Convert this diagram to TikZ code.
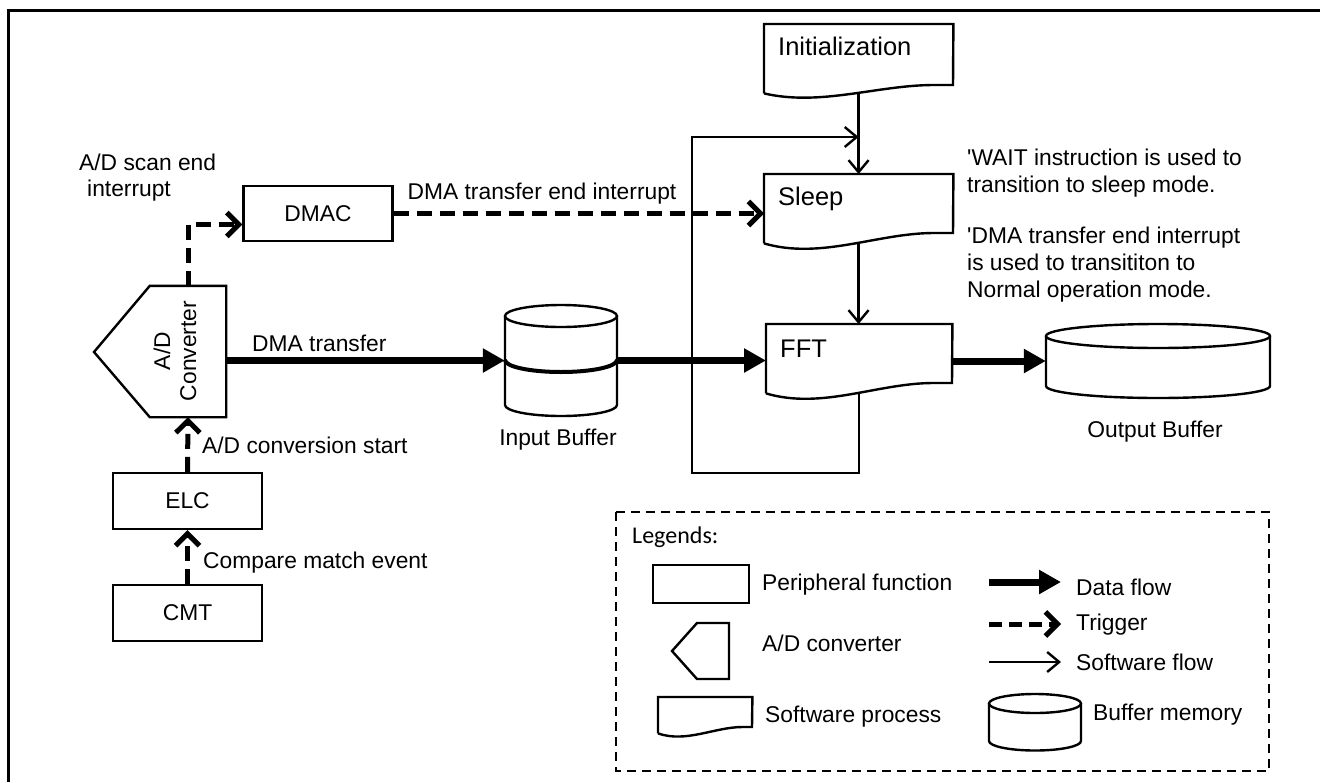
\documentclass[tikz,border=0pt]{standalone}
\usepackage{fontspec}
\setmainfont{Liberation Sans}
\newfontfamily\legfont{Carlito}
\usetikzlibrary{arrows.meta,calc}

\tikzset{
  ln/.style={line width=2.4pt},
  pbox/.style={draw, line width=2.4pt, minimum width=149pt, minimum height=56pt, inner sep=0pt, font=\fontsize{22.8}{26}\selectfont},
  data/.style={line width=7pt, -{Triangle[length=22pt,width=23pt]}},
  trig/.style={line width=5pt, dash pattern=on 15pt off 8pt, -{Straight Barb[length=12pt,width=24pt]}},
  sw/.style={line width=2.4pt, -{Straight Barb[length=12pt,width=20pt]}},
  lbl/.style={font=\fontsize{22.8}{27}\selectfont, inner sep=0pt},
  doclbl/.style={font=\fontsize{25.5}{30}\selectfont, inner sep=0pt, anchor=base west},
}

% doc shape: name, x0, y0, x1, yl, rise
\newcommand\docshape[6]{%
  \node[inner sep=0pt, minimum width={(#4-#2)*1pt}, minimum height={(#5-#3)*1pt}, anchor=north west] (#1) at (#2,#3) {};
  \draw[ln] (#1.south west) -- (#1.north west) -- (#1.north east) -- (#4,{#5-#6})
    -- ({#2+0.9*(#4-#2)},{#5-#6}) .. controls ({#2+0.6*(#4-#2)},{#5-#6}) and ({#2+0.3*(#4-#2)},{#5+1.7*#6}) .. (#1.south west)
    node[coordinate, pos=0.444] (#1-b) {};
}
% cylinder: name, cx, rx, ytop, ybot, ry
\newcommand\cylshape[6]{%
  \node[inner sep=0pt, minimum width={2*#3*1pt}, minimum height={(#5-#4+2*#6)*1pt}] (#1) at (#2,{(#4+#5)/2}) {};
  \draw[ln] ({#2-#3},#4) -- ({#2-#3},#5) arc[start angle=180, end angle=360, x radius=#3pt, y radius=#6pt] -- ({#2+#3},#4);
  \draw[ln] (#2,#4) ellipse[x radius=#3pt, y radius=#6pt];
}

\begin{document}
\begin{tikzpicture}[x=1pt,y=-1pt]
\useasboundingbox (0,0) rectangle (1320,782);
\fill[white] (0,0) rectangle (1320,782);
% frame
\draw[line width=3pt] (8,782) -- (8,10) -- (1320,10);

% peripheral boxes
\node[pbox] (cmt) at (187.5,613) {CMT};
\node[pbox] (elc) at (187.5,501) {ELC};
\node[pbox, minimum height=55pt] (dmac) at (318,213.5) {DMAC};

% A/D converter
\node[inner sep=0pt, minimum width=76pt, minimum height=131pt] (adc) at (188,351.5) {};
\draw[ln] (adc.north west) -- (adc.north east) -- (adc.south east) -- (adc.south west) -- (94,352) -- cycle;
\node[lbl, rotate=90, align=center, font=\fontsize{22.8}{26}\selectfont] at (175,351) {A/D\\Converter};

% software processes
\docshape{init}{764}{24}{953}{93}{8}
\node[doclbl] at (778,55) {Initialization};
\docshape{sleep}{764}{174}{953}{243}{10}
\node[doclbl] at (778,205) {Sleep};
\docshape{fft}{766}{324}{952}{393}{10}
\node[doclbl] at (780,357) {FFT};

% buffers
\cylshape{ib}{561}{56}{316}{405}{11}
\draw[line width=4pt] (505,360) arc[start angle=180, end angle=360, x radius=56pt, y radius=12pt];
\node[lbl] at (558,440) {Input Buffer};
\cylshape{ob}{1158}{112}{336}{386}{12}
\node[lbl] at (1155,432) {Output Buffer};

% software flow
\coordinate (loopc) at (692,473);
\coordinate (join) at (init-b |- 0,137);
\draw[sw] (init-b) -- (init-b |- sleep.north);
\draw[sw] (fft-b) |- (loopc) |- (join);
\draw[sw] (sleep-b) -- (sleep-b |- fft.north);

% triggers
\draw[trig] (cmt.north) -- (elc.south);
\draw[trig] (elc.north) -- (adc.south);
\draw[trig] (adc.north) |- ([yshift=-11pt]dmac.west);
\draw[trig] (dmac.east) -- (dmac.east -| sleep.west);

% data flow
\draw[data] (adc.east |- ib.west) -- (ib.west);
\draw[data] (ib.east) -- (ib.east -| fft.west);
\draw[data] (fft.east |- ob.west) -- (ob.west);

% labels
\node[lbl, anchor=base west] at (79,170) {A/D scan end};
\node[lbl, anchor=base west] at (87,196) {interrupt};
\node[lbl, anchor=south] at (542,204) {DMA transfer end interrupt};
\node[lbl, anchor=west] at (252,343) {DMA transfer};
\node[lbl, anchor=west] at (202,445) {A/D conversion start};
\node[lbl, anchor=west] at (203,563) {Compare match event};
\node[lbl, anchor=base west] at (967,165) {\textquotesingle WAIT instruction is used to};
\node[lbl, anchor=base west] at (967,192) {transition to sleep mode.};
\node[lbl, anchor=base west] at (967,243) {\textquotesingle DMA transfer end interrupt};
\node[lbl, anchor=base west] at (967,270) {is used to transititon to};
\node[lbl, anchor=base west] at (967,297) {Normal operation mode.};

% legend
\draw[line width=2pt, dash pattern=on 9pt off 6pt] (616,512) rectangle (1269,771);
\node[inner sep=0pt, anchor=west, font=\legfont\fontsize{24}{28}\selectfont] at (632,537) {Legends:};
\node[draw, line width=2.4pt, minimum width=96pt, minimum height=38pt, inner sep=0pt] (lgp) at (701,584) {};
\node[lbl, anchor=west] at (762,585) {Peripheral function};
\draw[ln] (697,623) -- (729,623) -- (729,679) -- (697,679) -- (672,651) -- cycle;
\node[lbl, anchor=west] at (762,643) {A/D converter};
\docshape{lgd}{658}{697}{752}{733}{6}
\node[lbl, anchor=west] at (765,717) {Software process};
\coordinate (ld1) at (989,582); \coordinate (ld2) at (1061,582);
\draw[data] (ld1) -- (ld2);
\node[lbl, anchor=west] at (1076,587) {Data flow};
\coordinate (lt1) at (989,624); \coordinate (lt2) at (1061,624);
\draw[trig, dash pattern=on 13pt off 7pt] (lt1) -- (lt2);
\node[lbl, anchor=west] at (1076,625) {Trigger};
\coordinate (ls1) at (989,662); \coordinate (ls2) at (1061,662);
\draw[sw] (ls1) -- (ls2);
\node[lbl, anchor=west] at (1076,662) {Software flow};
\cylshape{lgc}{1035}{46}{703.5}{741}{9.5}
\node[lbl, anchor=west] at (1093,715) {Buffer memory};
\end{tikzpicture}
\end{document}
